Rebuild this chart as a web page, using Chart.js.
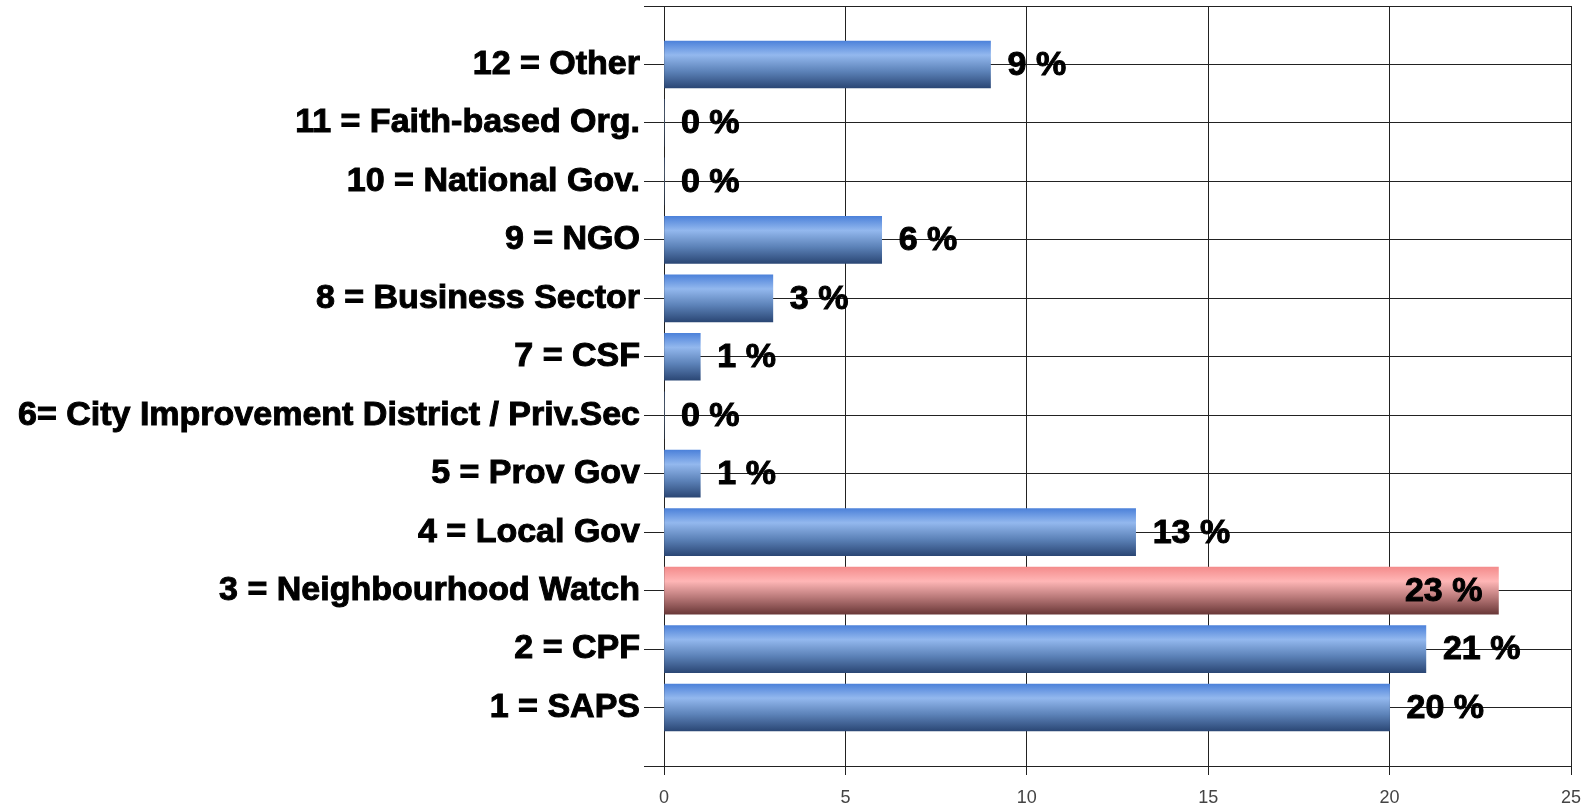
<!DOCTYPE html>
<html>
<head>
<meta charset="utf-8">
<script src="https://cdn.jsdelivr.net/npm/chart.js@4.4.1/dist/chart.umd.min.js"></script>
<style>
  html, body { margin: 0; padding: 0; background: #fff; }
  #chartCanvas { display: block; }
</style>
</head>
<body>
<canvas id="chartCanvas" width="1596" height="804"></canvas>
<script>
// categories, top to bottom
const categories = [
    '12 = Other',
    '11 = Faith-based Org.',
    '10 = National Gov.',
    '9 = NGO',
    '8 = Business Sector',
    '7 = CSF',
    '6= City Improvement District / Priv.Sec',
    '5 = Prov Gov',
    '4 = Local Gov',
    '3 = Neighbourhood Watch',
    '2 = CPF',
    '1 = SAPS'
];
const percentValues = [9, 0, 0, 6, 3, 1, 0, 1, 13, 23, 21, 20];
const xTicks = [0, 5, 10, 15, 20, 25];
const highlighted = '3 = Neighbourhood Watch';

// empty slot above and below, so rows sit on the grid lines
const paddedLabels = [''].concat(categories, ['']);
const paddedValues = [null].concat(percentValues, [null]);

const blueStops = ['#4d82da', '#93b8ee', '#5c82b8', '#2b4775'];
const redStops = ['#f48c8c', '#ffb6b6', '#b87878', '#6a3838'];

const barGradient = {
    id: 'barGradient',
    beforeDatasetsDraw(chart) {
        const ctx = chart.ctx;
        const meta = chart.getDatasetMeta(0);
        meta.data.forEach((el, i) => {
            if (paddedValues[i] === null) return;
            const top = el.y - el.height / 2;
            const bottom = el.y + el.height / 2;
            const stops = paddedLabels[i] === highlighted ? redStops : blueStops;
            const g = ctx.createLinearGradient(0, top, 0, bottom);
            g.addColorStop(0, stops[0]);
            g.addColorStop(0.3, stops[1]);
            g.addColorStop(0.65, stops[2]);
            g.addColorStop(1, stops[3]);
            el.options.backgroundColor = g;
        });
    }
};

const valueLabels = {
    id: 'valueLabels',
    afterDatasetsDraw(chart) {
        const ctx = chart.ctx;
        const area = chart.chartArea;
        const meta = chart.getDatasetMeta(0);
        ctx.save();
        ctx.font = 'bold 34px "Liberation Sans", Arial, sans-serif';
        ctx.fillStyle = '#000';
        ctx.strokeStyle = '#000';
        ctx.lineWidth = 1;
        ctx.textBaseline = 'middle';
        meta.data.forEach((el, i) => {
            const v = paddedValues[i];
            if (v === null) return;
            const text = v + ' %';
            const w = ctx.measureText(text).width;
            let x;
            if (el.x + 17 + w > area.right - 4) {
                ctx.textAlign = 'right';
                x = el.x - 16;
            } else {
                ctx.textAlign = 'left';
                x = el.x + 17;
            }
            ctx.fillText(text, x, el.y + 1);
            ctx.strokeText(text, x, el.y + 1);
        });
        ctx.restore();
    }
};

const canvas = document.getElementById('chartCanvas');
const ctx = canvas.getContext('2d');

new Chart(ctx, {
    type: 'bar',
    data: {
        labels: paddedLabels,
        datasets: [{
            data: paddedValues,
            // scriptable so every bar keeps its own options object
            backgroundColor: (c) => '#5c82b8',
            borderWidth: 0,
            barThickness: 47
        }]
    },
    options: {
        indexAxis: 'y',
        responsive: false,
        animation: false,
        layout: { padding: { top: 6, right: 25, left: 0, bottom: 0 } },
        plugins: {
            legend: { display: false },
            tooltip: { enabled: false }
        },
        scales: {
            x: {
                type: 'linear',
                min: 0,
                max: 25,
                afterBuildTicks(axis) {
                    axis.ticks = xTicks.map(v => ({ value: v }));
                },
                grid: {
                    color: '#222',
                    lineWidth: 1,
                    tickLength: 9,
                    drawOnChartArea: true
                },
                border: { color: '#222' },
                ticks: {
                    color: '#444',
                    padding: 12,
                    font: { family: '"Liberation Sans Narrow", "Arial Narrow", sans-serif', size: 18 }
                },
                afterFit(axis) {
                    axis.height = 38;
                    axis.paddingLeft = 0;
                    axis.paddingRight = 0;
                }
            },
            y: {
                type: 'category',
                offset: false,
                grid: {
                    color: '#222',
                    lineWidth: 1,
                    tickLength: 20,
                    offset: false
                },
                border: { color: '#222' },
                ticks: {
                    color: '#000',
                    padding: 4,
                    autoSkip: false,
                    textStrokeColor: '#000',
                    textStrokeWidth: 1,
                    font: { family: '"Liberation Sans", Arial, sans-serif', size: 34, weight: 'bold' }
                },
                afterFit(axis) {
                    axis.width = 664;
                    axis.paddingTop = 0;
                    axis.paddingBottom = 0;
                }
            }
        }
    },
    plugins: [barGradient, valueLabels]
});
</script>
</body>
</html>
